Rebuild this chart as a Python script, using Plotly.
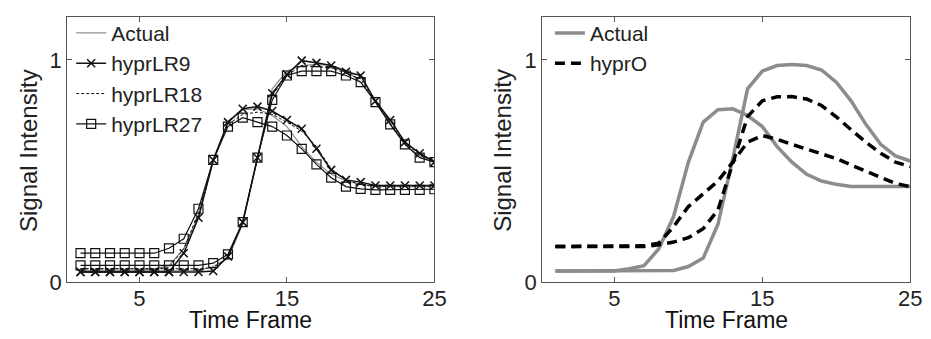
import plotly.graph_objects as go

frames = list(range(1, 26))

# Actual signal (two tissues: early and late peak)
actual_early = [0.05, 0.05, 0.05, 0.05, 0.05, 0.06, 0.074, 0.15, 0.296, 0.54, 0.72, 0.776, 0.78, 0.75, 0.70,
                0.61, 0.54, 0.485, 0.455, 0.44, 0.43, 0.43, 0.43, 0.43, 0.43]
actual_late = [0.05, 0.05, 0.05, 0.05, 0.05, 0.05, 0.05, 0.05, 0.052, 0.07, 0.108, 0.26, 0.556, 0.87, 0.95,
               0.975, 0.98, 0.975, 0.955, 0.90, 0.816, 0.71, 0.62, 0.568, 0.545]

lr9_early = [0.045, 0.045, 0.045, 0.045, 0.045, 0.045, 0.045, 0.13, 0.29, 0.55, 0.72, 0.78, 0.79, 0.77, 0.73,
             0.69, 0.60, 0.505, 0.46, 0.45, 0.435, 0.435, 0.435, 0.435, 0.435]
lr9_late = [0.045, 0.045, 0.045, 0.045, 0.045, 0.045, 0.045, 0.045, 0.045, 0.05, 0.115, 0.27, 0.56, 0.85, 0.935,
            0.997, 0.987, 0.975, 0.947, 0.93, 0.815, 0.73, 0.63, 0.58, 0.54]

lr18_early = [0.06, 0.06, 0.06, 0.06, 0.06, 0.06, 0.065, 0.15, 0.31, 0.55, 0.71, 0.755, 0.765, 0.755, 0.72,
              0.68, 0.61, 0.51, 0.46, 0.44, 0.432, 0.432, 0.432, 0.432, 0.432]
lr18_late = [0.06, 0.06, 0.06, 0.06, 0.06, 0.06, 0.06, 0.06, 0.06, 0.065, 0.11, 0.27, 0.56, 0.84, 0.93,
             0.975, 0.97, 0.965, 0.94, 0.915, 0.81, 0.72, 0.625, 0.575, 0.54]

lr27_early = [0.13, 0.13, 0.13, 0.13, 0.13, 0.13, 0.152, 0.195, 0.33, 0.55, 0.70, 0.74, 0.72, 0.70, 0.66,
              0.60, 0.53, 0.47, 0.43, 0.42, 0.415, 0.415, 0.415, 0.415, 0.418]
lr27_late = [0.075, 0.075, 0.075, 0.075, 0.075, 0.075, 0.075, 0.075, 0.075, 0.085, 0.125, 0.27, 0.56, 0.82, 0.93,
             0.95, 0.95, 0.95, 0.93, 0.90, 0.81, 0.71, 0.62, 0.56, 0.54]

hypro_early = [0.16, 0.16, 0.16, 0.16, 0.16, 0.16, 0.163, 0.175, 0.25, 0.34, 0.40, 0.455, 0.54, 0.63, 0.66,
               0.643, 0.62, 0.60, 0.578, 0.556, 0.527, 0.50, 0.47, 0.444, 0.43]
hypro_late = [0.16, 0.16, 0.16, 0.16, 0.16, 0.16, 0.16, 0.168, 0.18, 0.20, 0.24, 0.325, 0.53, 0.745, 0.816,
              0.834, 0.835, 0.824, 0.795, 0.744, 0.686, 0.63, 0.58, 0.54, 0.52]

x_ticks = [5, 15, 25]
y_ticks = [0, 1]

GRAY = "#8c8c8c"
FONT = "Liberation Sans, Arial, sans-serif"

fig = go.Figure()

# ---- left panel ----
for i, ys in enumerate([actual_early, actual_late]):
    fig.add_trace(go.Scatter(x=frames, y=ys, mode="lines", name="Actual",
                             line=dict(color=GRAY, width=1.2), legendgroup="a",
                             showlegend=(i == 0), xaxis="x", yaxis="y", legend="legend"))
for i, ys in enumerate([lr18_early, lr18_late]):
    fig.add_trace(go.Scatter(x=frames, y=ys, mode="lines", name="hyprLR18",
                             line=dict(color="#111", width=1, dash="3px,2px"), legendgroup="c",
                             showlegend=False, xaxis="x", yaxis="y", legend="legend"))
for i, ys in enumerate([lr9_early, lr9_late]):
    fig.add_trace(go.Scatter(x=frames, y=ys, mode="lines+markers", name="hyprLR9",
                             line=dict(color="#111", width=1.5),
                             marker=dict(symbol="x-thin", size=8, line=dict(color="#111", width=1.5)),
                             legendgroup="b", showlegend=(i == 0), xaxis="x", yaxis="y", legend="legend"))
# legend entry for hyprLR18 (keeps the legend order of the reference)
fig.add_trace(go.Scatter(x=[None], y=[None], mode="lines", name="hyprLR18",
                         line=dict(color="#111", width=1, dash="3px,2px"), legendgroup="c",
                         showlegend=True, xaxis="x", yaxis="y", legend="legend"))
for i, ys in enumerate([lr27_early, lr27_late]):
    fig.add_trace(go.Scatter(x=frames, y=ys, mode="lines+markers", name="hyprLR27",
                             line=dict(color="#111", width=1.2),
                             marker=dict(symbol="square-open", size=9, color="#111", line=dict(width=1.2)),
                             legendgroup="d", showlegend=(i == 0), xaxis="x", yaxis="y", legend="legend"))

# ---- right panel ----
for i, ys in enumerate([actual_early, actual_late]):
    fig.add_trace(go.Scatter(x=frames, y=ys, mode="lines", name="Actual",
                             line=dict(color=GRAY, width=3.5), legendgroup="ra",
                             showlegend=(i == 0), xaxis="x2", yaxis="y2", legend="legend2"))
for i, ys in enumerate([hypro_early, hypro_late]):
    fig.add_trace(go.Scatter(x=frames, y=ys, mode="lines", name="hyprO",
                             line=dict(color="#000", width=3.5, dash="10px,6px"), legendgroup="rb",
                             showlegend=(i == 0), xaxis="x2", yaxis="y2", legend="legend2"))

axis_common = dict(showgrid=False, zeroline=False, showline=True, linecolor="#555", linewidth=1,
                   mirror="ticks", ticks="inside", ticklen=5, tickcolor="#555",
                   tickfont=dict(family=FONT, size=22, color="#222"))

W, H = 931, 339
ytop, ybot = 9, 285
yd = [(H - ybot) / H, (H - ytop) / H]

fig.update_layout(
    width=W, height=H, margin=dict(l=0, r=0, t=0, b=0),
    paper_bgcolor="white", plot_bgcolor="white",
    font=dict(family=FONT, color="#222"),
    xaxis=dict(domain=[60 / W, 432 / W], range=[0.1, 25], tickvals=x_ticks, anchor="y",
               ticklabelstandoff=-3, **axis_common),
    yaxis=dict(domain=yd, range=[0, 1.195], tickvals=y_ticks, anchor="x", ticklabelstandoff=0, **axis_common),
    xaxis2=dict(domain=[541 / W, 914 / W], range=[0.1, 25], tickvals=x_ticks, anchor="y2",
                ticklabelstandoff=-3, **axis_common),
    yaxis2=dict(domain=yd, range=[0, 1.195], tickvals=y_ticks, anchor="x2", ticklabelstandoff=0, **axis_common),
    legend=dict(x=64 / W, y=1 - 5 / H, xanchor="left", yanchor="top", bgcolor="rgba(0,0,0,0)",
                font=dict(family=FONT, size=21, color="#222"), tracegroupgap=0, traceorder="normal"),
    legend2=dict(x=549 / W, y=1 - 5 / H, xanchor="left", yanchor="top", bgcolor="rgba(0,0,0,0)",
                 font=dict(family=FONT, size=21, color="#222"), tracegroupgap=0),
    showlegend=True,
)

for cx in [(60 + 432) / 2, (541 + 914) / 2]:
    fig.add_annotation(x=cx / W, y=0, xref="paper", yref="paper", text="Time Frame",
                       showarrow=False, font=dict(family=FONT, size=23, color="#111"),
                       xanchor="center", yanchor="bottom", borderpad=0)
for cx in [21, 501]:
    fig.add_annotation(x=cx / W, y=(H - 148) / H, xref="paper", yref="paper", text="Signal Intensity",
                       showarrow=False, textangle=-90, font=dict(family=FONT, size=24, color="#222"),
                       xanchor="center", yanchor="middle")

fig.write_html("out.html")
